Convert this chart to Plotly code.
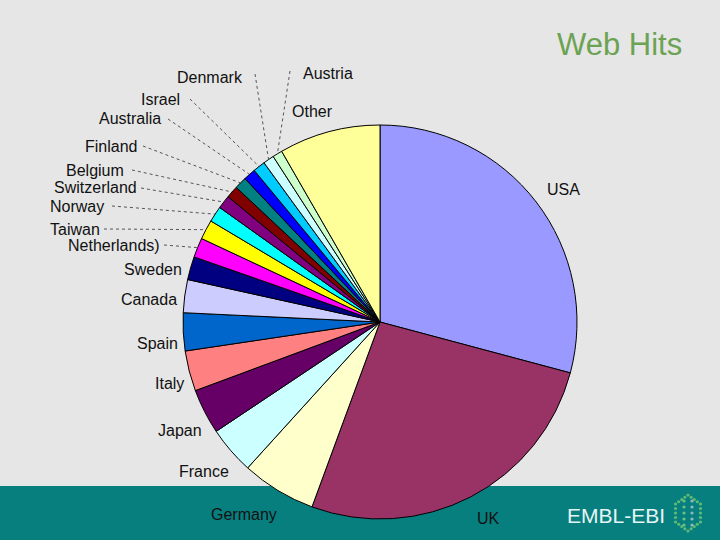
import math
import plotly.graph_objects as go

countries = ["USA", "UK", "Germany", "France", "Japan", "Italy", "Spain", "Canada",
             "Sweden", "Netherlands)", "Taiwan", "Norway", "Switzerland", "Belgium",
             "Finland", "Australia", "Israel", "Denmark", "Austria", "Other"]
hits_pct = [29.1, 26.4, 6.1, 3.9, 3.7, 3.3, 3.1, 2.7, 1.9, 1.6, 1.6, 1.3, 1.1, 1.0,
            1.0, 1.0, 1.0, 0.9, 0.8, 8.3]
slice_colors = ["#9999FF", "#993366", "#FFFFCC", "#CCFFFF", "#660066", "#FF8080",
                "#0066CC", "#CCCCFF", "#000080", "#FF00FF", "#FFFF00", "#00FFFF",
                "#800080", "#800000", "#008080", "#0000FF", "#00CCFF", "#CCFFFF",
                "#CCFFCC", "#FFFF99"]
# label positions (pixels, layout only)
label_pos = {
    "USA": (563, 189), "UK": (488, 518), "Germany": (244, 514), "France": (204, 471),
    "Japan": (180, 430), "Italy": (169, 383), "Spain": (157, 343), "Canada": (149, 299),
    "Sweden": (153, 269), "Netherlands)": (114, 245), "Taiwan": (75, 229),
    "Norway": (77, 206), "Switzerland": (95, 188), "Belgium": (95, 170),
    "Finland": (111, 146), "Australia": (130, 119), "Israel": (160, 100),
    "Denmark": (210, 77), "Austria": (328, 73), "Other": (312, 112),
}
# leader line start points near the labels (pixels, layout only)
leader_start = {
    "Netherlands)": (164, 245), "Taiwan": (104, 229), "Norway": (112, 206),
    "Switzerland": (141, 188), "Belgium": (132, 170), "Finland": (143, 146),
    "Australia": (168, 119), "Israel": (190, 99), "Denmark": (255, 74),
    "Austria": (290, 71),
}

W, H = 720, 540
CX, CY, R = 380, 322, 197

fig = go.Figure()
fig.add_trace(go.Pie(
    labels=countries, values=hits_pct, sort=False, direction="clockwise", rotation=0,
    marker=dict(colors=slice_colors, line=dict(color="black", width=1)),
    textinfo="none", hoverinfo="label+percent", showlegend=False,
    domain=dict(x=[(CX - R) / W, (CX + R) / W], y=[(H - CY - R) / H, (H - CY + R) / H]),
))

shapes = [
    dict(type="rect", xref="paper", yref="paper", x0=0, x1=1, y0=0, y1=54 / H,
         fillcolor="#087F7F", line=dict(width=0), layer="below"),
]

total = sum(hits_pct)
cum = 0.0
for name, v in zip(countries, hits_pct):
    mid = (cum + v / 2) / total * 2 * math.pi
    cum += v
    if name in leader_start:
        ex = CX + R * math.sin(mid)
        ey = CY - R * math.cos(mid)
        sx, sy = leader_start[name]
        shapes.append(dict(type="line", xref="paper", yref="paper",
                           x0=sx / W, y0=1 - sy / H, x1=ex / W, y1=1 - ey / H,
                           line=dict(color="#555555", width=1, dash="dot"), layer="below"))

annotations = []
for name in countries:
    x, y = label_pos[name]
    annotations.append(dict(x=x / W, y=1 - y / H, xref="paper", yref="paper",
                            text=name, showarrow=False, xanchor="center", yanchor="middle",
                            font=dict(family="Liberation Sans, Arial", size=16,
                                      color="#111111")))

annotations.append(dict(x=684 / W, y=1 - 44 / H, xref="paper", yref="paper",
                        text="Web Hits", showarrow=False, xanchor="right", yanchor="middle",
                        font=dict(family="Liberation Sans, Arial", size=31, color="#6BA353")))
annotations.append(dict(x=616 / W, y=1 - 515 / H, xref="paper", yref="paper",
                        text="EMBL-EBI", showarrow=False, xanchor="center", yanchor="middle",
                        font=dict(family="Liberation Sans, Arial", size=21, color="#E6F4F4")))

# small dotted hexagon logo
LX, LY, LR = 688, 513, 18
for k in range(6):
    a0 = math.pi / 2 + k * math.pi / 3
    a1 = a0 + math.pi / 3
    for t in range(4):
        f = t / 4
        px = LX + LR * ((1 - f) * math.cos(a0) + f * math.cos(a1)) * 0.8
        py = LY - LR * ((1 - f) * math.sin(a0) + f * math.sin(a1))
        shapes.append(dict(type="circle", xref="paper", yref="paper",
                           x0=(px - 1.6) / W, x1=(px + 1.6) / W,
                           y0=1 - (py + 1.6) / H, y1=1 - (py - 1.6) / H,
                           fillcolor="#5DBB73", line=dict(width=0)))
for j in range(5):
    py = LY - 12 + j * 6
    for px, col in ((684, "#6FBF80"), (692, "#8FB7C0")):
        shapes.append(dict(type="circle", xref="paper", yref="paper",
                           x0=(px - 1.6) / W, x1=(px + 1.6) / W,
                           y0=1 - (py + 1.6) / H, y1=1 - (py - 1.6) / H,
                           fillcolor=col, line=dict(width=0)))

fig.update_layout(
    width=W, height=H, margin=dict(l=0, r=0, t=0, b=0),
    paper_bgcolor="#E6E6E6", plot_bgcolor="#E6E6E6",
    shapes=shapes, annotations=annotations,
)
fig.write_html("out.html", config={"displayModeBar": False},
               post_script="document.body.style.margin='0';document.body.style.padding='0';")
